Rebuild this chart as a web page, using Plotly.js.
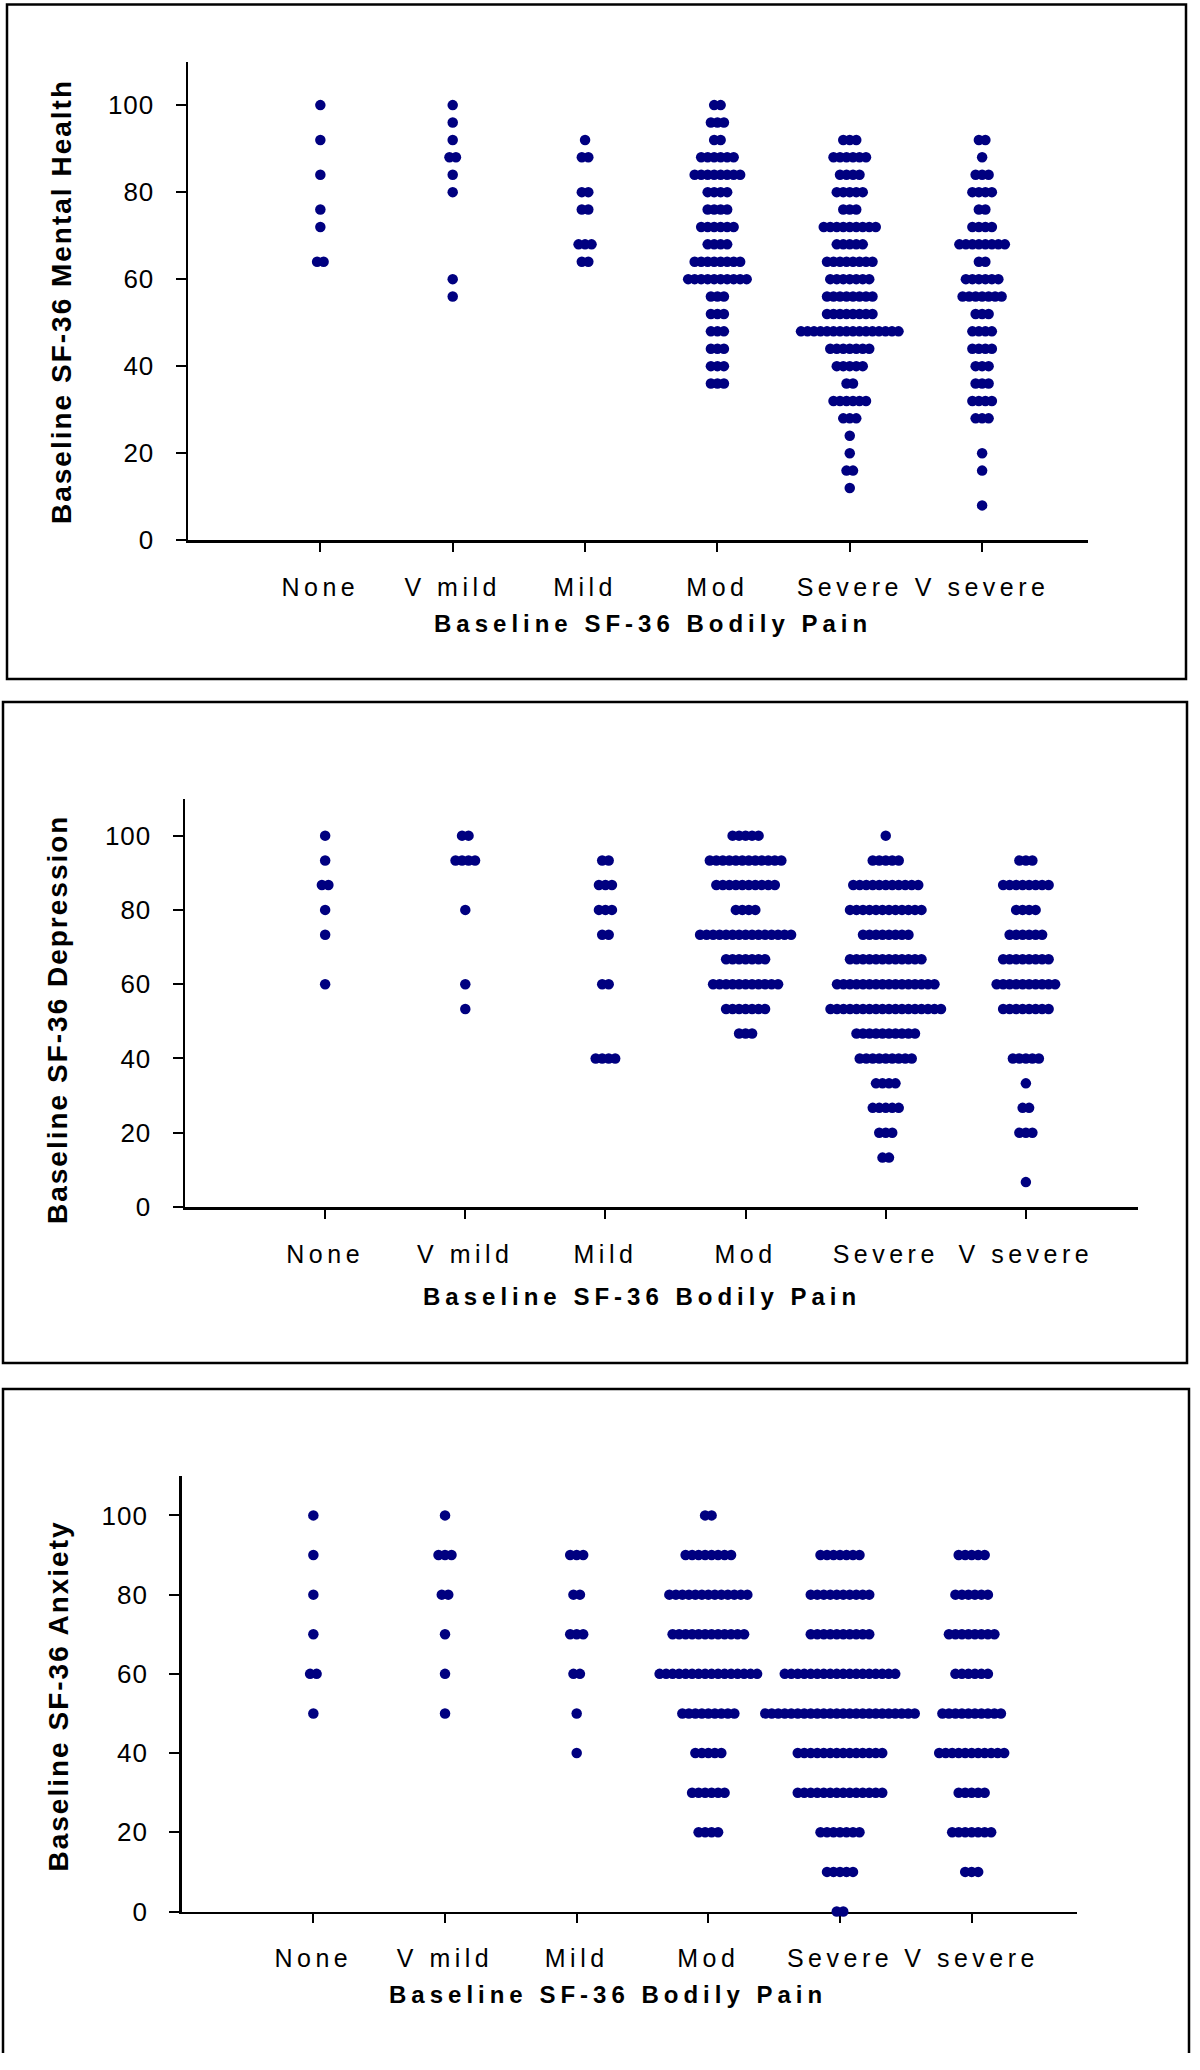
<!DOCTYPE html>
<html>
<head>
<meta charset="utf-8">
<script src="https://cdn.plot.ly/plotly-3.0.1.min.js"></script>
<style>
  html, body { margin: 0; padding: 0; background: #fff; }
  #chart { width: 1200px; height: 2070px; }
  .xtick text, .x2tick text, .x3tick text { letter-spacing: 4.5px; }
  .ytick text, .y2tick text, .y3tick text { letter-spacing: 1px; }
</style>
</head>
<body>
<div id="chart"></div>
<script>
// ---------------- DATA ----------------
const categories = ["None", "V mild", "Mild", "Mod", "Severe", "V severe"];

// Panel 1: Baseline SF-36 Mental Health (score levels, dots per level for each pain category)
const mhLevels    = [100, 96, 92, 88, 84, 80, 76, 72, 68, 64, 60, 56, 52, 48, 44, 40, 36, 32, 28, 24, 20, 16, 12, 8];
const mhNone      = [1, 0, 1, 0, 1, 0, 1, 1, 0, 2, 0, 0, 0, 0, 0, 0, 0, 0, 0, 0, 0, 0, 0, 0];
const mhVmild     = [1, 1, 1, 2, 1, 1, 0, 0, 0, 0, 1, 1, 0, 0, 0, 0, 0, 0, 0, 0, 0, 0, 0, 0];
const mhMild      = [0, 0, 1, 2, 0, 2, 2, 0, 3, 2, 0, 0, 0, 0, 0, 0, 0, 0, 0, 0, 0, 0, 0, 0];
const mhMod       = [2, 3, 2, 6, 8, 4, 4, 6, 4, 8, 10, 3, 3, 3, 3, 3, 3, 0, 0, 0, 0, 0, 0, 0];
const mhSevere    = [0, 0, 3, 6, 4, 5, 3, 9, 5, 8, 7, 8, 8, 16, 7, 5, 2, 6, 3, 1, 1, 2, 1, 0];
const mhVsevere   = [0, 0, 2, 1, 3, 4, 2, 4, 8, 2, 6, 7, 3, 4, 4, 3, 3, 4, 3, 0, 1, 1, 0, 1];

// Panel 2: Baseline SF-36 Depression
const depLevels   = [100, 93.3, 86.7, 80, 73.3, 66.7, 60, 53.3, 46.7, 40, 33.3, 26.7, 20, 13.3, 6.7];
const depNone     = [1, 1, 2, 1, 1, 0, 1, 0, 0, 0, 0, 0, 0, 0, 0];
const depVmild    = [2, 4, 0, 1, 0, 0, 1, 1, 0, 0, 0, 0, 0, 0, 0];
const depMild     = [0, 2, 3, 3, 2, 0, 2, 0, 0, 4, 0, 0, 0, 0, 0];
const depMod      = [5, 12, 10, 4, 15, 7, 11, 7, 3, 0, 0, 0, 0, 0, 0];
const depSevere   = [1, 5, 11, 12, 8, 12, 16, 18, 10, 9, 4, 5, 3, 2, 0];
const depVsevere  = [0, 3, 8, 4, 6, 8, 10, 8, 0, 5, 1, 2, 3, 0, 1];

// Panel 3: Baseline SF-36 Anxiety
const anxLevels   = [100, 90, 80, 70, 60, 50, 40, 30, 20, 10, 0];
const anxNone     = [1, 1, 1, 1, 2, 1, 0, 0, 0, 0, 0];
const anxVmild    = [1, 3, 2, 1, 1, 1, 0, 0, 0, 0, 0];
const anxMild     = [0, 3, 2, 3, 2, 1, 1, 0, 0, 0, 0];
const anxMod      = [2, 8, 13, 12, 16, 9, 5, 6, 4, 0, 0];
const anxSevere   = [0, 7, 10, 10, 18, 24, 14, 14, 7, 5, 2];
const anxVsevere  = [0, 5, 6, 8, 6, 10, 11, 5, 7, 3, 0];

const yTickVals = [0, 20, 40, 60, 80, 100];
const xTitle = "Baseline SF-36 Bodily Pain";
const yTitles = ["Baseline SF-36 Mental Health", "Baseline SF-36 Depression", "Baseline SF-36 Anxiety"];

// ---------------- LAYOUT GEOMETRY (pixels) ----------------
const W = 1200, H = 2070;
const XMAX = 6.8, YMAX = 110;
const panels = [
  { levels: mhLevels,  counts: [mhNone, mhVmild, mhMild, mhMod, mhSevere, mhVsevere],
    px: [188, 1088], py: [61.6, 540.2], frame: [7, 4.5, 1186, 679], open: false,
    xt: [653, 624], yt: [62, 302] },
  { levels: depLevels, counts: [depNone, depVmild, depMild, depMod, depSevere, depVsevere],
    px: [185, 1138], py: [798.5, 1207], frame: [3, 702, 1187, 1363], open: false,
    xt: [642, 1296], yt: [58, 1020] },
  { levels: anxLevels, counts: [anxNone, anxVmild, anxMild, anxMod, anxSevere, anxVsevere],
    px: [181.7, 1077], py: [1475.8, 1911.5], frame: [3, 1389, 1189, 2053], open: true,
    xt: [608, 1994], yt: [57.5, 1696] }
];
const DOT_STEP_PX = 6.5;
const NAVY = "#000080";
const FONT = "Liberation Sans, Arial, sans-serif";

const fx = v => v / W;
const fy = v => 1 - v / H;

const data = [];
const layout = {
  width: W, height: H,
  margin: { l: 0, r: 0, t: 0, b: 0 },
  paper_bgcolor: "#fff", plot_bgcolor: "#fff",
  showlegend: false,
  font: { family: FONT, color: "#000" },
  shapes: [], annotations: []
};

panels.forEach((p, pi) => {
  const sfx = pi === 0 ? "" : String(pi + 1);
  const pxPerUnit = (p.px[1] - p.px[0]) / XMAX;
  const delta = DOT_STEP_PX / pxPerUnit;
  const xs = [], ys = [];
  p.counts.forEach((cnt, ci) => {
    cnt.forEach((n, li) => {
      for (let k = 0; k < n; k++) {
        xs.push(ci + 1 + (k - (n - 1) / 2) * delta);
        ys.push(p.levels[li]);
      }
    });
  });
  data.push({
    type: "scatter", mode: "markers", x: xs, y: ys,
    xaxis: "x" + sfx, yaxis: "y" + sfx,
    marker: { symbol: "circle", size: 10.5, color: NAVY, line: { width: 0 } },
    cliponaxis: false, hoverinfo: "skip"
  });
  layout["xaxis" + sfx] = {
    domain: [fx(p.px[0]), fx(p.px[1])], range: [0, XMAX],
    anchor: "y" + sfx,
    tickmode: "array", tickvals: categories.map((c, i) => i + 1), ticktext: categories,
    showline: true, linecolor: "#000", linewidth: 2.5,
    ticks: "outside", ticklen: 9, tickwidth: 2, tickcolor: "#000",
    showgrid: false, zeroline: false, layer: "below traces",
    tickfont: { family: FONT, size: 25, color: "#000" },
    ticklabelstandoff: 14, fixedrange: true
  };
  layout["yaxis" + sfx] = {
    domain: [fy(p.py[1]), fy(p.py[0])], range: [0, YMAX],
    anchor: "x" + sfx,
    tickmode: "array", tickvals: yTickVals,
    showline: true, linecolor: "#000", linewidth: 2.5,
    ticks: "outside", ticklen: 10, tickwidth: 2, tickcolor: "#000",
    showgrid: false, zeroline: false, layer: "below traces",
    tickfont: { family: FONT, size: 26, color: "#000" },
    ticklabelstandoff: 16, fixedrange: true
  };
  // panel frame
  const f = p.frame;
  if (p.open) {
    layout.shapes.push({
      type: "path", xref: "paper", yref: "paper",
      path: `M ${fx(f[0])},${fy(f[3])} L ${fx(f[0])},${fy(f[1])} L ${fx(f[2])},${fy(f[1])} L ${fx(f[2])},${fy(f[3])}`,
      line: { color: "#000", width: 2.5 }
    });
  } else {
    layout.shapes.push({
      type: "rect", xref: "paper", yref: "paper",
      x0: fx(f[0]), x1: fx(f[2]), y0: fy(f[3]), y1: fy(f[1]),
      line: { color: "#000", width: 2.5 }, fillcolor: "rgba(0,0,0,0)"
    });
  }
  // axis titles
  layout.annotations.push({
    xref: "paper", yref: "paper", x: fx(p.xt[0]), y: fy(p.xt[1]),
    xanchor: "center", yanchor: "middle", showarrow: false,
    text: `<span style="letter-spacing:5px"><b>${xTitle}</b></span>`,
    font: { family: FONT, size: 24, color: "#000" }
  });
  layout.annotations.push({
    xref: "paper", yref: "paper", x: fx(p.yt[0]), y: fy(p.yt[1]),
    xanchor: "center", yanchor: "middle", showarrow: false, textangle: -90,
    text: `<span style="letter-spacing:2px"><b>${yTitles[pi]}</b></span>`,
    font: { family: FONT, size: 28, color: "#000" }
  });
});

Plotly.newPlot("chart", data, layout, { staticPlot: true, displayModeBar: false });
</script>
</body>
</html>
